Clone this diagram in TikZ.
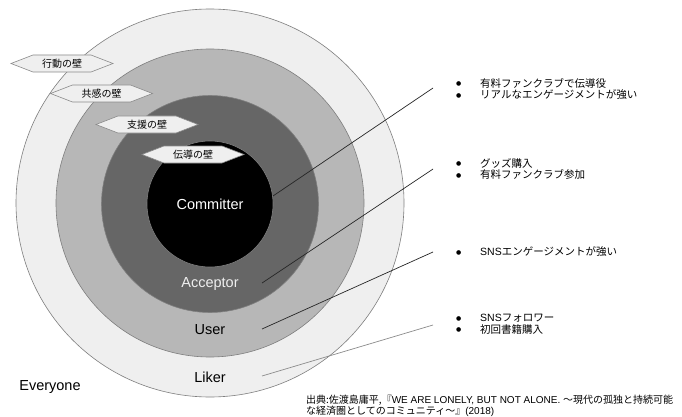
\documentclass[tikz,border=0pt]{standalone}
\usepackage{fontspec}
\setmainfont{Liberation Sans}
\newfontfamily\jp{Noto Sans CJK JP}
\newfontfamily\djv{DejaVu Sans}
\definecolor{lgray}{HTML}{EFEFEF}
\definecolor{mgray}{HTML}{B7B7B7}
\definecolor{dgray}{HTML}{666666}
\definecolor{edge}{HTML}{7F7F7F}
\definecolor{hexedge}{HTML}{8A8A8A}
\newcommand{\bul}{\makebox[24pt][l]{\raisebox{1.2pt}{\djv\fontsize{6}{6}\selectfont ●}}}
\begin{document}
\begin{tikzpicture}[x=1pt,y=-1pt,
  ring/.style={circle, draw=edge, line width=0.6pt, inner sep=0pt, outer sep=0pt},
  lbl/.style={inner sep=0pt, font=\fontsize{14.5}{16}\selectfont},
  conn/.style={draw=black!85, line width=0.7pt},
  connlight/.style={draw=black!45, line width=0.7pt},
  blist/.style={anchor=west, align=left, inner sep=0pt, font=\fontsize{10.5}{11.7}\selectfont},
  wall/.pic={
    \path[draw=hexedge, fill=lgray, line width=0.6pt]
      (-51,0) -- (-29,-8.5) -- (29,-8.5) -- (51,0) -- (29,8.5) -- (-29,8.5) -- cycle;
    \node[inner sep=0pt, font=\jp\fontsize{10}{12}\selectfont] (-t) at (0,0) {#1};
  }]
\useasboundingbox (0,0) rectangle (682,417);
\fill[white] (0,0) rectangle (682,417);

% rings
\node[ring, fill=lgray, minimum size=388pt] (liker) at (210,203) {};
\node[ring, fill=mgray, minimum size=308pt] (user) at (210,203) {};
\node[ring, fill=dgray, minimum size=217pt] (acceptor) at (210,204) {};
\node[ring, fill=black, minimum size=126pt] (committer) at (210,204) {};

% walls
\pic (w1) at (62,63.5) {wall=行動の壁};
\pic (w2) at (101.5,93.5) {wall=共感の壁};
\pic (w3) at (147,124.5) {wall=支援の壁};
\pic (w4) at (193,154.5) {wall=伝導の壁};

% ring labels
\node[lbl, text=white] (tcom) at (210,204) {Committer};
\node[lbl, text=lgray] (tacc) at (210,284) {Acceptor};
\node[lbl] (tuser) at (210,330) {User};
\node[lbl] (tliker) at (210,377) {Liker};
\node[lbl] (tevery) at (50,387) {Everyone};

% connectors
\coordinate (comS) at (273,196);
\coordinate (comE) at (433,88);
\coordinate (accS) at (262,283);
\coordinate (accE) at (433,169);
\coordinate (useS) at (262,329);
\coordinate (useE) at (433,252);
\coordinate (likS) at (262,376);
\coordinate (likE) at (433,325);
\draw[conn] (comS) -- (comE);
\draw[conn] (accS) -- (accE);
\draw[conn] (useS) -- (useE);
\draw[connlight] (likS) -- (likE);

% bullet lists
\node[blist] (b1) at (456,89) {\bul{\jp 有料ファンクラブで伝導役}\\
  \bul{\jp リアルなエンゲージメントが強い}};
\node[blist] (b2) at (456,169) {\bul{\jp グッズ購入}\\
  \bul{\jp 有料ファンクラブ参加}};
\node[blist] (b3) at (456,252) {\bul SNS{\jp エンゲージメントが強い}};
\node[blist] (b4) at (456,324) {\bul SNS{\jp フォロワー}\\
  \bul{\jp 初回書籍購入}};

% caption
\node[anchor=north west, align=left, inner sep=0pt, font=\fontsize{10}{9.8}\selectfont] (cap) at (306,394.5)
  {{\jp 出典:佐渡島庸平,『}WE ARE LONELY, BUT NOT ALONE. {\jp 〜現代の孤独と持続可能}\\
   {\jp な経済圏としてのコミュニティ〜』}(2018)};
\end{tikzpicture}
\end{document}
